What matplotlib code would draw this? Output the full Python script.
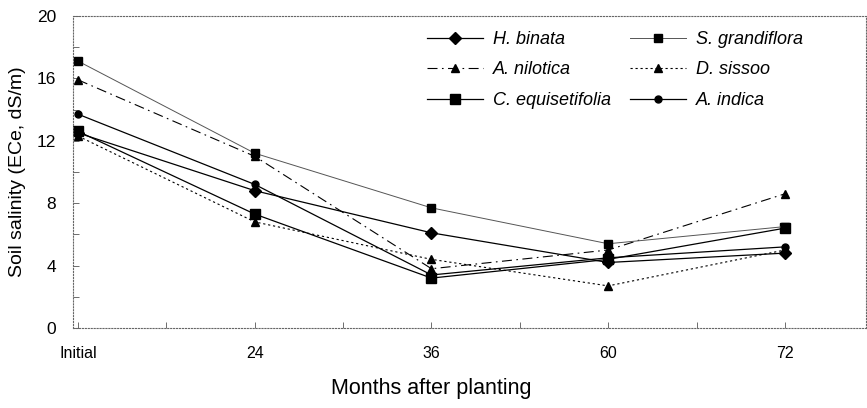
import matplotlib
matplotlib.use("Agg")
import matplotlib.pyplot as plt
from matplotlib.ticker import MultipleLocator

plt.rcParams['font.family'] = ['Liberation Sans', 'DejaVu Sans']

months = ['Initial', '24', '36', '60', '72']
h_binata = [12.5, 8.8, 6.1, 4.2, 4.8]
s_grandiflora = [17.1, 11.2, 7.7, 5.4, 6.5]
a_nilotica = [15.9, 11.0, 3.8, 5.0, 8.6]
d_sissoo = [12.3, 6.8, 4.4, 2.7, 5.0]
c_equisetifolia = [12.6, 7.3, 3.2, 4.4, 6.4]
a_indica = [13.7, 9.2, 3.4, 4.5, 5.2]

x = list(range(len(months)))

fig = plt.figure(figsize=(8.67, 4.08), dpi=100)
ax = fig.add_axes([0.084, 0.196, 0.915, 0.765])

# column-wise legend order: left column first, then right column
ax.plot(x, h_binata, color='black', lw=0.9, marker='D', ms=6, label='H. binata')
ax.plot(x, a_nilotica, color='black', lw=0.8, ls=(0, (9, 4, 1.5, 4)), marker='^', ms=5.5, label='A. nilotica')
ax.plot(x, c_equisetifolia, color='black', lw=0.9, marker='s', ms=7, label='C. equisetifolia')
ax.plot(x, s_grandiflora, color='#555555', lw=0.7, marker='s', ms=6, mfc='black', mec='black',
        label='S. grandiflora')
ax.plot(x, d_sissoo, color='black', lw=0.8, ls=(0, (2, 2.5)), marker='^', ms=5.5, label='D. sissoo')
ax.plot(x, a_indica, color='black', lw=0.9, marker='o', ms=5, label='A. indica')

ax.set_xlim(-0.03, 4.46)
ax.set_ylim(0, 20)
ax.set_xticks(x)
ax.set_xticklabels(months)
ax.xaxis.set_minor_locator(MultipleLocator(0.5))
ax.yaxis.set_major_locator(MultipleLocator(4))
ax.yaxis.set_minor_locator(MultipleLocator(2))
ax.tick_params(which='both', direction='in', length=4, width=0.6, color='#555555')
ax.tick_params(axis='x', which='both', pad=13, labelsize=11.5)
ax.tick_params(axis='y', which='both', pad=12, labelsize=12.5)

for sp in ax.spines.values():
    sp.set_linestyle(':')
    sp.set_color('#666666')
    sp.set_linewidth(0.8)

ax.set_xlabel('Months after planting', fontsize=15.5)
ax.xaxis.set_label_coords(2.03 / 4.49, -0.16)
ax.set_ylabel('Soil salinity (ECe, dS/m)', fontsize=14, labelpad=8)

leg = ax.legend(ncol=2, frameon=False, loc='upper left', bbox_to_anchor=(0.446, 0.952),
                prop={'style': 'italic', 'size': 13}, handlelength=3.1,
                columnspacing=1.1, labelspacing=0.75, handletextpad=0.55,
                borderpad=0, borderaxespad=0)

fig.savefig('out.png', dpi=100)
